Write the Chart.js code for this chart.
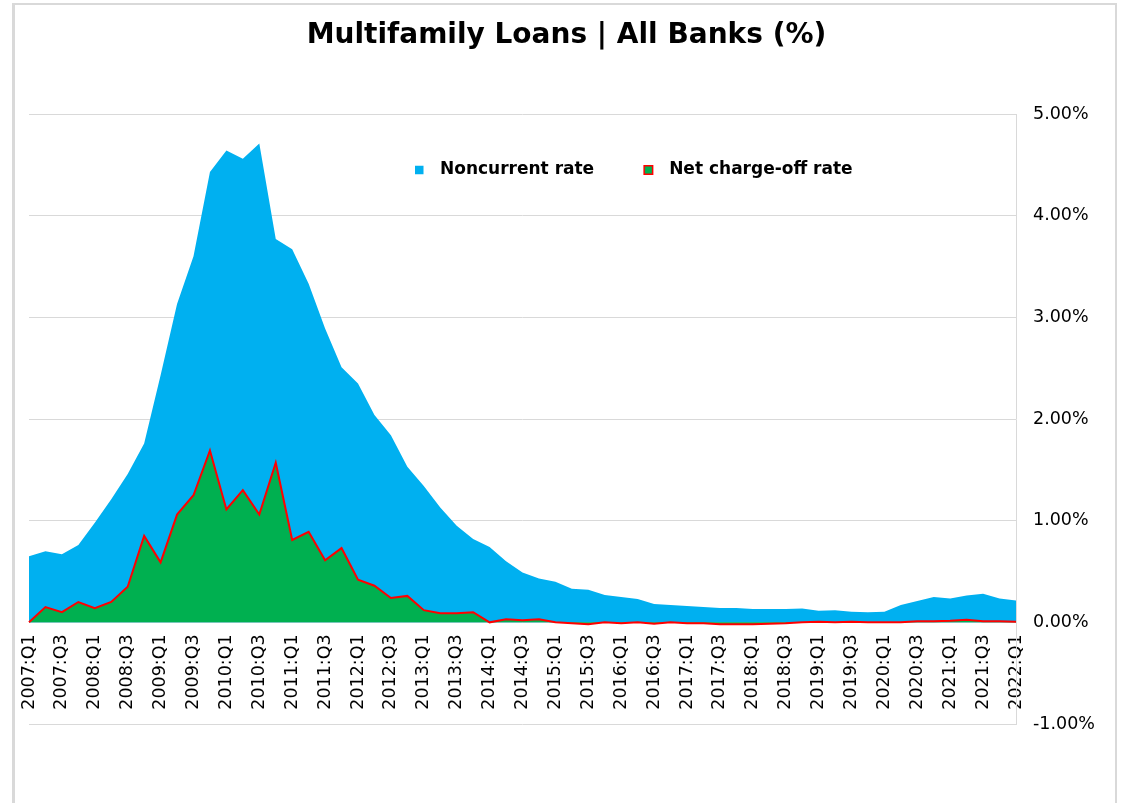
<!DOCTYPE html>
<html>
<head>
<meta charset="utf-8">
<title>Multifamily Loans | All Banks (%)</title>
<script src="https://cdn.jsdelivr.net/npm/chart.js@4.4.1/dist/chart.umd.min.js"></script>
<style>
  html, body { margin: 0; padding: 0; background: #fff; }
  #wrap { position: relative; width: 1133px; height: 803px; }
</style>
</head>
<body>
<div id="wrap"><canvas id="chart"></canvas></div>
<script>
/* Multifamily loans, all banks: noncurrent and net charge-off rates (%),
   quarterly 2007:Q1 – 2022:Q1. */

const quarters = [
  '2007:Q1', '2007:Q2', '2007:Q3', '2007:Q4',
  '2008:Q1', '2008:Q2', '2008:Q3', '2008:Q4',
  '2009:Q1', '2009:Q2', '2009:Q3', '2009:Q4',
  '2010:Q1', '2010:Q2', '2010:Q3', '2010:Q4',
  '2011:Q1', '2011:Q2', '2011:Q3', '2011:Q4',
  '2012:Q1', '2012:Q2', '2012:Q3', '2012:Q4',
  '2013:Q1', '2013:Q2', '2013:Q3', '2013:Q4',
  '2014:Q1', '2014:Q2', '2014:Q3', '2014:Q4',
  '2015:Q1', '2015:Q2', '2015:Q3', '2015:Q4',
  '2016:Q1', '2016:Q2', '2016:Q3', '2016:Q4',
  '2017:Q1', '2017:Q2', '2017:Q3', '2017:Q4',
  '2018:Q1', '2018:Q2', '2018:Q3', '2018:Q4',
  '2019:Q1', '2019:Q2', '2019:Q3', '2019:Q4',
  '2020:Q1', '2020:Q2', '2020:Q3', '2020:Q4',
  '2021:Q1', '2021:Q2', '2021:Q3', '2021:Q4',
  '2022:Q1',
];

// Noncurrent rate (%)
const noncurrentRate = [
  0.65, 0.70, 0.67, 0.76,
  0.98, 1.21, 1.46, 1.76,
  2.43, 3.13, 3.60, 4.43,
  4.64, 4.56, 4.71, 3.77,
  3.67, 3.33, 2.89, 2.51,
  2.35, 2.04, 1.84, 1.53,
  1.34, 1.13, 0.95, 0.82,
  0.74, 0.60, 0.49, 0.43,
  0.40, 0.33, 0.32, 0.27,
  0.25, 0.23, 0.18, 0.17,
  0.16, 0.15, 0.14, 0.14,
  0.13, 0.13, 0.13, 0.135,
  0.115, 0.12, 0.105, 0.10,
  0.105, 0.17, 0.21, 0.25,
  0.235, 0.265, 0.28, 0.235,
  0.215,
];

// Net charge-off rate (%)
const chargeOffRate = [
  0.00, 0.15, 0.10, 0.20,
  0.14, 0.20, 0.35, 0.85,
  0.59, 1.06, 1.25, 1.69,
  1.11, 1.30, 1.06, 1.57,
  0.81, 0.89, 0.61, 0.73,
  0.42, 0.36, 0.24, 0.26,
  0.12, 0.09, 0.09, 0.10,
  0.00, 0.03, 0.02, 0.03,
  0.00, -0.01, -0.02, 0.00,
  -0.01, 0.00, -0.015, 0.00,
  -0.01, -0.01, -0.02, -0.02,
  -0.02, -0.015, -0.01, 0.00,
  0.005, 0.00, 0.005, 0.00,
  0.00, 0.00, 0.01, 0.01,
  0.015, 0.025, 0.01, 0.01,
  0.005,
];

// Right-hand value axis, in percent
const yTicks = { min: -1, max: 5, step: 1 };

const FONT = '"DejaVu Sans", Verdana, sans-serif';
const INK = '#000000';
const GRID = '#d9d9d9';
const BLUE = '#00b0f0';
const GREEN = '#00b050';
const RED = '#ff0000';

/* Light grey border round the whole chart (open at the bottom). */
const chartFrame = {
  id: 'chartFrame',
  beforeDraw(chart) {
    const { ctx, width, height } = chart;
    ctx.save();
    ctx.strokeStyle = GRID;
    ctx.lineWidth = 2;
    ctx.beginPath();
    ctx.moveTo(12, 4);
    ctx.lineTo(width - 17, 4);
    ctx.moveTo(width - 17, 3);
    ctx.lineTo(width - 17, height);
    ctx.stroke();
    ctx.lineWidth = 3;
    ctx.beginPath();
    ctx.moveTo(13.5, 3);
    ctx.lineTo(13.5, height);
    ctx.stroke();
    ctx.restore();
  },
};

/* Legend drawn inside the plot area, one row, bold labels. */
const insideLegend = {
  id: 'insideLegend',
  afterDatasetsDraw(chart, args, opts) {
    const { ctx, chartArea } = chart;
    let x = chartArea.left + opts.offsetX;
    const y = chartArea.top + opts.offsetY;
    ctx.save();
    ctx.font = `bold ${opts.fontSize}px ${FONT}`;
    ctx.textBaseline = 'middle';
    ctx.textAlign = 'left';
    chart.data.datasets.forEach((ds) => {
      const box = opts.boxSize;
      ctx.fillStyle = ds.backgroundColor;
      ctx.fillRect(x, y - box / 2, box, box);
      if (ds.borderWidth) {
        ctx.strokeStyle = ds.borderColor;
        ctx.lineWidth = 1.5;
        ctx.strokeRect(x, y - box / 2, box, box);
      }
      ctx.fillStyle = INK;
      ctx.fillText(ds.label, x + opts.textGap, y);
      x += opts.textGap + ctx.measureText(ds.label).width + opts.itemGap;
    });
    ctx.restore();
  },
};

new Chart(document.getElementById('chart'), {
  type: 'line',
  data: {
    labels: quarters,
    datasets: [
      {
        label: 'Noncurrent rate',
        data: noncurrentRate,
        backgroundColor: BLUE,
        borderColor: BLUE,
        borderWidth: 0,
        pointRadius: 0,
        fill: 'origin',
        tension: 0,
        order: 1,
      },
      {
        label: 'Net charge-off rate',
        data: chargeOffRate,
        backgroundColor: GREEN,
        borderColor: RED,
        borderWidth: 2,
        pointRadius: 0,
        fill: 'origin',
        tension: 0,
        order: 0,
      },
    ],
  },
  options: {
    responsive: true,
    maintainAspectRatio: false,
    animation: false,
    // equal side padding keeps the title centred on the page
    layout: { padding: { left: 29, right: 29, top: 0, bottom: 79 } },
    plugins: {
      legend: { display: false },
      tooltip: { enabled: false },
      title: {
        display: true,
        text: 'Multifamily Loans | All Banks (%)',
        color: INK,
        font: { family: FONT, size: 28, weight: 'bold', lineHeight: 1.2 },
        padding: { top: 19, bottom: 61.4 },
      },
      insideLegend: { offsetX: 386, offsetY: 56, fontSize: 17, boxSize: 8.5, textGap: 25, itemGap: 50 },
    },
    scales: {
      x: {
        type: 'category',
        position: { y: 0 },
        grid: { display: false, drawTicks: false },
        border: { display: false },
        ticks: {
          color: INK,
          font: { family: FONT, size: 17.5 },
          padding: 12,
          autoSkip: false,
          minRotation: 90,
          maxRotation: 90,
          callback(v, i) { return i % 2 === 0 ? this.getLabelForValue(v) : ''; },
        },
      },
      y: {
        position: 'right',
        min: yTicks.min,
        max: yTicks.max,
        afterFit(scale) { scale.width = 88; },
        grid: { color: GRID, lineWidth: 1, drawTicks: false },
        border: { display: true, color: GRID, width: 1 },
        ticks: {
          stepSize: yTicks.step,
          color: INK,
          padding: 17,
          font: { family: FONT, size: 17.5 },
          callback: (v) => `${v.toFixed(2)}%`,
        },
      },
    },
  },
  plugins: [chartFrame, insideLegend],
});
</script>
</body>
</html>
